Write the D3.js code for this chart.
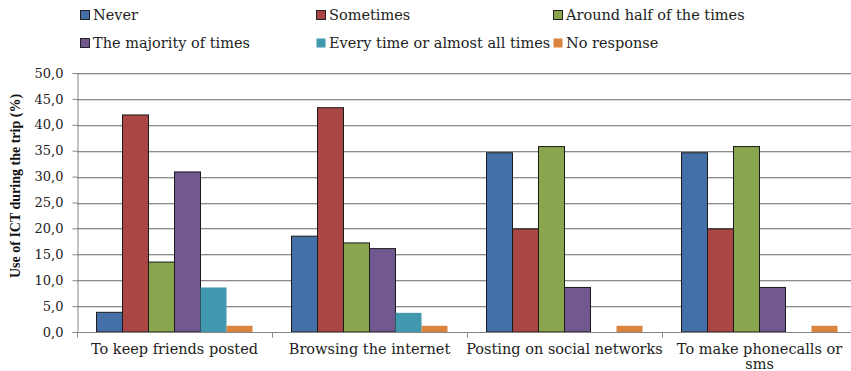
<!DOCTYPE html>
<html><head><meta charset="utf-8">
<script src="https://cdn.jsdelivr.net/npm/d3@7"></script>
<style>body{margin:0;background:#fff;} svg{display:block;}</style>
</head><body>
<script>
const categories = ["To keep friends posted", "Browsing the internet", "Posting on social networks", "To make phonecalls or sms"];
const seriesNames = ["Never", "Sometimes", "Around half of the times", "The majority of times", "Every time or almost all times", "No response"];
const never = [3.8, 18.5, 34.6, 34.6];
const sometimes = [41.9, 43.3, 19.9, 19.9];
const aroundHalf = [13.5, 17.2, 35.8, 35.8];
const majority = [30.9, 16.1, 8.6, 8.6];
const everyTime = [8.6, 3.7, 0, 0];
const noResponse = [1.2, 1.2, 1.2, 1.2];
const yTicks = [0, 5, 10, 15, 20, 25, 30, 35, 40, 45, 50];
const colors = ["#4470A7", "#AA4644", "#89A54E", "#71588F", "#4198AF", "#DB843D"];
const outlined = [true, true, true, true, false, false];

const seriesValues = [never, sometimes, aroundHalf, majority, everyTime, noResponse];
const W = 851, H = 371;
const margin = {left: 77, right: -6, top: 73, bottom: 39};
const svg = d3.select("body").append("svg").attr("width", W).attr("height", H);
const font = "'DejaVu Serif', serif";

const x0 = d3.scaleBand().domain(categories).range([margin.left, W - margin.right]).paddingInner(0).paddingOuter(0);
const x1 = d3.scaleBand().domain(d3.range(seriesNames.length)).range([0, x0.bandwidth()]).paddingInner(0).paddingOuter(0.75);
const y = d3.scaleLinear().domain([0, 50]).range([H - margin.bottom, margin.top]);

// gridlines
const grid = svg.append("g");
yTicks.filter(t => t > 0).forEach(t => {
  grid.append("line").attr("x1", margin.left).attr("x2", W).attr("y1", Math.round(y(t)) + 1.5).attr("y2", Math.round(y(t)) + 1.5).attr("stroke", "#d9d9d9");
  grid.append("line").attr("x1", margin.left).attr("x2", W).attr("y1", Math.round(y(t)) + 0.5).attr("y2", Math.round(y(t)) + 0.5).attr("stroke", "#8c8c8c");
});

// bars
seriesValues.forEach((vals, si) => {
  svg.append("g").selectAll("rect").data(vals).join("rect")
    .attr("x", (d, i) => x0(categories[i]) + x1(si))
    .attr("width", x1.bandwidth())
    .attr("y", d => y(d))
    .attr("height", d => y(0) - y(d))
    .attr("fill", colors[si])
    .attr("stroke", outlined[si] ? "#1a1a1a" : "none")
    .attr("stroke-width", outlined[si] ? 1 : 0)
    .style("display", d => d > 0 ? null : "none");
});

// y axis
const yAxis = d3.axisLeft(y).tickValues(yTicks).tickSize(5).tickFormat(d => d3.format(".1f")(d).replace(".", ","));
const ya = svg.append("g").attr("transform", `translate(${margin.left + 0.5},0)`).call(yAxis);
ya.select(".domain").attr("stroke", "#868686");
ya.selectAll(".tick line").attr("stroke", "#868686");
ya.selectAll(".tick text").attr("font-family", font).attr("font-size", 13).attr("fill", "#222").attr("x", -14);

// x axis
const xa = svg.append("g").attr("transform", `translate(0,${y(0) + 0.5})`);
xa.append("line").attr("x1", margin.left).attr("x2", W).attr("stroke", "#868686");
categories.forEach((c, i) => {
  const xs = Math.round(x0(c)) + 0.5;
  xa.append("line").attr("x1", xs).attr("x2", xs).attr("y1", 0).attr("y2", 5).attr("stroke", "#868686");
});
const labelLines = [["To keep friends posted"], ["Browsing the internet"], ["Posting on social networks"], ["To make phonecalls or", "sms"]];
categories.forEach((c, i) => {
  const t = xa.append("text").attr("text-anchor", "middle").attr("font-family", font).attr("font-size", 14.5).attr("fill", "#222")
    .attr("transform", `translate(${x0(c) + x0.bandwidth() / 2},0)`);
  labelLines[i].forEach((l, j) => t.append("tspan").attr("x", 0).attr("y", 21 + j * 15).text(l));
});

// y axis title
svg.append("text").attr("transform", `translate(20,186) rotate(-90)`).attr("text-anchor", "middle")
  .attr("font-family", "'Liberation Serif', serif").attr("font-weight", "bold").attr("font-size", 14).attr("fill", "#111")
  .text("Use of ICT during the trip (%)");

// legend
const legPos = [[80, 15], [316, 15], [553, 15], [80, 43], [316, 43], [553, 43]];
seriesNames.forEach((n, i) => {
  const g = svg.append("g").attr("transform", `translate(${legPos[i][0]},${legPos[i][1]})`);
  g.append("rect").attr("x", 0.5).attr("y", -4.5).attr("width", 9).attr("height", 9).attr("fill", colors[i]).attr("stroke", outlined[i] ? "#222" : "none");
  g.append("text").attr("x", 13).attr("y", 5).attr("font-family", font).attr("font-size", 14.5).attr("fill", "#222").text(n);
});
</script>
</body></html>
